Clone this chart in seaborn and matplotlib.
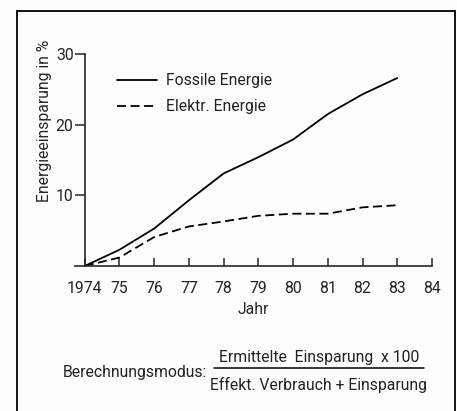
import numpy as np
import pandas as pd
import matplotlib.pyplot as plt
import matplotlib.patches as mpatches
import seaborn as sns

# values
years = [1974, 1975, 1976, 1977, 1978, 1979, 1980, 1981, 1982, 1983]
fossil = [0.0, 2.3, 5.3, 9.3, 13.1, 15.4, 17.9, 21.5, 24.3, 26.6]
elektr = [0.0, 1.2, 4.1, 5.6, 6.3, 7.1, 7.4, 7.4, 8.3, 8.6]
xtick_vals = list(range(1974, 1985))
xtick_labels = ['1974', '75', '76', '77', '78', '79', '80', '81', '82', '83', '84']
ytick_vals = [10, 20, 30]

df = pd.DataFrame({
    'Jahr': years * 2,
    'Wert': fossil + elektr,
    'Serie': ['Fossile Energie'] * len(years) + ['Elektr. Energie'] * len(years),
})

sns.set_style('ticks')
plt.rcParams['font.family'] = ['Roboto', 'DejaVu Sans']
plt.rcParams['text.color'] = '#222222'
FS = 11.3

fig = plt.figure(figsize=(4.57, 4.11), dpi=100)
fig.patch.set_facecolor('#fdfdfd')
ax = fig.add_axes([75 / 457, 1 - 266 / 411, (432 - 75) / 457, (266 - 48) / 411])
ax.set_facecolor('#fdfdfd')

sns.lineplot(data=df, x='Jahr', y='Wert', style='Serie', color='black',
             dashes={'Fossile Energie': '', 'Elektr. Energie': (5, 2.5)},
             linewidth=1.3, ax=ax, legend=False)

ax.set_xlim(1973.72, 1984)
ax.set_ylim(0, 30 * (266 - 48) / (266 - 54))

for s in ['top', 'right']:
    ax.spines[s].set_visible(False)
ax.spines['left'].set_position(('data', 1974))
ax.spines['left'].set_bounds(0, 30)
ax.spines['left'].set_linewidth(1.2)
ax.spines['bottom'].set_linewidth(1.2)

ax.set_xticks(xtick_vals)
ax.set_xticklabels(xtick_labels)
ax.set_yticks(ytick_vals)
ax.tick_params(axis='x', direction='in', length=6, width=1.1, labelsize=FS, pad=11,
               labelcolor='#222222')
ax.tick_params(axis='y', direction='out', length=7, width=1.1, labelsize=FS, pad=1,
               labelcolor='#222222')

ax.set_xlabel('Jahr', fontsize=FS, labelpad=4)
ax.set_ylabel('Energieeinsparung in %', fontsize=FS)
ax.yaxis.set_label_coords(-0.065, 0.665)

# legend drawn by hand like the original
lx0, lx1, tx = 117 / 457, 157 / 457, 166 / 457
for yy, ls, lab in [(1 - 80 / 411, '-', 'Fossile Energie'),
                    (1 - 106 / 411, (0, (5, 2.5)), 'Elektr. Energie')]:
    fig.add_artist(plt.Line2D([lx0, lx1], [yy, yy], color='black', lw=1.3, linestyle=ls))
    fig.text(tx, yy, lab, fontsize=FS, va='center', ha='left')

# formula at the bottom
fig.text(63 / 457, 1 - 372 / 411, 'Berechnungsmodus:', fontsize=FS, va='center', ha='left')
fig.text(319 / 457, 1 - 357 / 411, 'Ermittelte  Einsparung  x 100', fontsize=FS, va='center', ha='center')
fig.add_artist(plt.Line2D([214 / 457, 424 / 457], [1 - 368 / 411] * 2, color='black', lw=1.1))
fig.text(319 / 457, 1 - 385 / 411, 'Effekt. Verbrauch + Einsparung', fontsize=FS, va='center', ha='center')

# outer frame
fig.add_artist(mpatches.Rectangle((17 / 457, -0.05), (455 - 17) / 457, 1.05 - 11 / 411,
                                  fill=False, edgecolor='black', lw=1.3,
                                  transform=fig.transFigure))

fig.savefig('out.png', dpi=100, facecolor=fig.get_facecolor())
